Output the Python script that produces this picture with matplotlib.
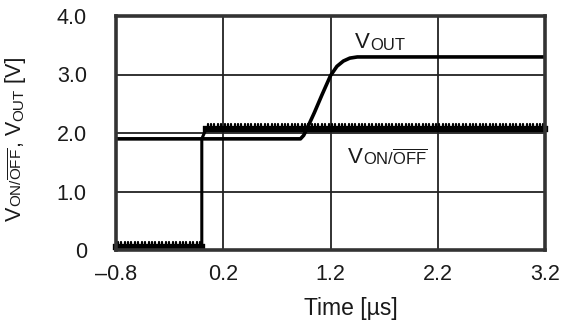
import matplotlib
matplotlib.use('Agg')
import matplotlib.pyplot as plt
import matplotlib.patheffects as pe

plt.rcParams['font.family'] = ['Liberation Sans', 'DejaVu Sans']

# data
t_vout = [-0.8, 0.92, 0.95, 0.98, 1.05, 1.12, 1.2, 1.26, 1.32, 1.38, 1.45, 3.2]
vout = [1.9, 1.9, 1.96, 2.07, 2.35, 2.65, 2.98, 3.14, 3.23, 3.28, 3.3, 3.3]
t_von = [-0.8, 0.0, 0.0, 0.04, 3.2]
von = [0.05, 0.05, 1.9, 2.07, 2.07]

x_ticks = [-0.8, 0.2, 1.2, 2.2, 3.2]
x_labels = ['\u20130.8', '0.2', '1.2', '2.2', '3.2']
y_ticks = [0, 1, 2, 3, 4]
y_labels = ['0', '1.0', '2.0', '3.0', '4.0']

ink = '#1a1a1a'

fig = plt.figure(figsize=(5.62, 3.22), dpi=100)
ax = fig.add_axes([116 / 562, 1 - 250 / 322, 429 / 562, 234 / 322])

ax.set_xlim(-0.8, 3.2)
ax.set_ylim(0, 4)
ax.set_xticks(x_ticks, x_labels)
ax.set_yticks(y_ticks, y_labels)
ax.tick_params(axis='both', length=0, labelsize=15.5, colors=ink)
ax.tick_params(axis='y', pad=21)
ax.tick_params(axis='x', pad=10)
ax.grid(True, color='#222222', lw=1.3)
ax.set_axisbelow(True)
for s in ax.spines.values():
    s.set_linewidth(2.6)
    s.set_color('#333333')
    s.set_zorder(4)

# curves
ax.plot(t_vout, vout, color='black', lw=2.6, solid_capstyle='butt', zorder=3)
ax.plot(t_von, von, color='black', lw=2.2, zorder=3, clip_on=False)
ticked = [pe.Stroke(linewidth=4.4),
          pe.withTickedStroke(spacing=2.4, angle=90, length=1.45, linewidth=1.6, capstyle='round'),
          pe.Normal()]
ax.plot(t_von[:2], von[:2], color='black', lw=4.4, zorder=3, clip_on=False, path_effects=ticked)
ax.plot(t_von[3:], von[3:], color='black', lw=4.4, zorder=3, clip_on=False, path_effects=ticked)

# xlabel
ax.set_xlabel('Time [\u00b5s]', fontsize=16.5, color=ink)
ax.xaxis.set_label_coords(0.548, -0.2)
ax.xaxis.label.set_va('top')


def chain(pieces, x, y, coords, vertical=False):
    # draw text pieces one after another, big letters mixed with small caps
    rot = 90 if vertical else 0
    ha = 'right' if vertical else 'left'
    prev = ax.annotate(pieces[0][0], xy=(x, y), xycoords=coords, rotation=rot,
                       ha=ha, va='bottom', fontsize=pieces[0][1], color=ink,
                       annotation_clip=False)
    nxt = (1, 1) if vertical else (1, 0)
    for txt, fs in pieces[1:]:
        prev = ax.annotate(txt, xy=nxt, xycoords=prev, rotation=rot,
                           ha=ha, va='bottom', fontsize=fs, color=ink,
                           annotation_clip=False)


onoff = r'ON/$\overline{\mathregular{OFF}}$'
chain([('V', 16), ('OUT', 12)], 1.43, 3.36, 'data')
chain([('V', 16), (onoff, 12)], 1.36, 1.4, 'data')
chain([('V', 15.5), (onoff, 11), (', V', 15.5), ('OUT', 11), (' [V]', 15.5)],
      26 / 562, 1 - 221 / 322, 'figure fraction', vertical=True)

fig.savefig('out.png', dpi=100)
